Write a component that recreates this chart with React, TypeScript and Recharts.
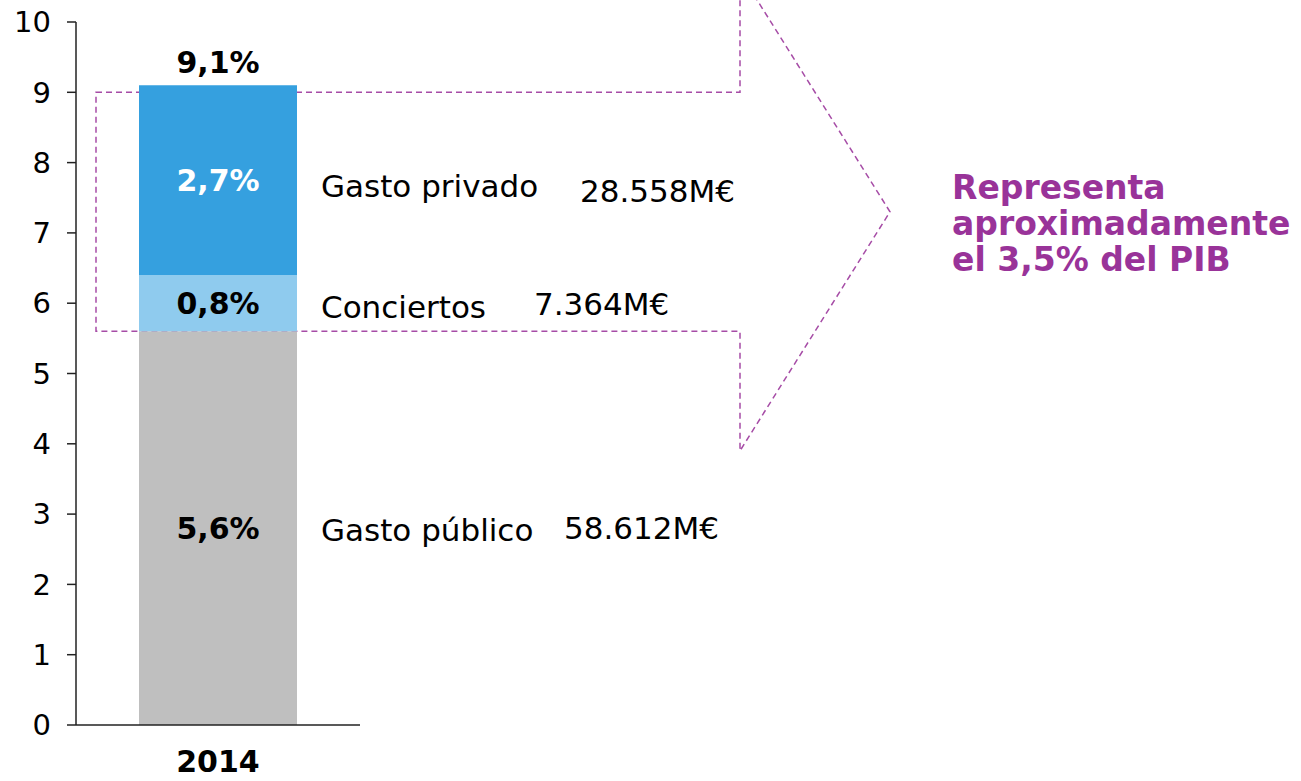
import React from 'react';
import {
  BarChart,
  Bar,
  XAxis,
  YAxis,
  LabelList,
  ReferenceArea,
} from 'recharts';

/* ---------------------------------------
   DATA
---------------------------------------- */
const years = ['2014'];
const gastoPublico = [5.6];
const conciertos = [0.8];
const gastoPrivado = [2.7];
const seriesNames = ['Gasto público', 'Conciertos', 'Gasto privado'];
const seriesAmounts = ['58.612M€', '7.364M€', '28.558M€'];
const yTicks = [0, 1, 2, 3, 4, 5, 6, 7, 8, 9, 10];
const noteLines = ['Representa', 'aproximadamente', 'el 3,5% del PIB'];
const arrowTop = 9; // upper edge of the dashed arrow body

const data = years.map((year, i) => ({
  year,
  publico: gastoPublico[i],
  conciertos: conciertos[i],
  privado: gastoPrivado[i],
  total: gastoPublico[i] + conciertos[i] + gastoPrivado[i],
}));

const FONT = '"DejaVu Sans", Verdana, sans-serif';
const PURPLE = '#993399';
const fmt = (v: number) => v.toFixed(1).replace('.', ',');

/* ---------------------------------------
   LABELS
---------------------------------------- */
function makeSegmentLabel(
  seriesIndex: number,
  color: string,
  nameDy: number,
  amountDx: number,
  amountDy: number
) {
  return function SegmentLabel(props: any) {
    const { x, y, width, height, value } = props;
    const cx = x + width / 2;
    const cy = y + height / 2;
    return (
      <g>
        <text
          x={cx}
          y={cy}
          dy="0.36em"
          textAnchor="middle"
          fontFamily={FONT}
          fontSize={30}
          fontWeight="bold"
          fill={color}
        >
          {fmt(Number(value))}%
        </text>
        <text
          x={x + width + 24}
          y={cy + nameDy}
          dy="0.36em"
          fontFamily={FONT}
          fontSize={31}
          fill="#000"
        >
          {seriesNames[seriesIndex]}
        </text>
        <text
          x={x + width + amountDx}
          y={cy + amountDy}
          dy="0.36em"
          fontFamily={FONT}
          fontSize={31}
          fill="#000"
        >
          {seriesAmounts[seriesIndex]}
        </text>
      </g>
    );
  };
}

function TotalLabel(props: any) {
  const { x, y, width, value } = props;
  return (
    <text
      x={x + width / 2}
      y={y - 12}
      textAnchor="middle"
      fontFamily={FONT}
      fontSize={30}
      fontWeight="bold"
      fill="#000"
    >
      {fmt(Number(value))}%
    </text>
  );
}

/* ---------------------------------------
   DASHED ARROW (spans the conciertos + privado range)
---------------------------------------- */
function ArrowShape(props: any) {
  const { x, y, height } = props;
  const top = y;
  const bottom = y + height;
  const mid = y + height / 2;
  const left = x + 20;
  const neck = x + 664;
  const tip = x + 814;
  const points = [
    [left, top],
    [neck, top],
    [neck, mid - height],
    [tip, mid],
    [neck, mid + height],
    [neck, bottom],
    [left, bottom],
  ]
    .map((p) => p.join(','))
    .join(' ');
  return (
    <g>
      <polygon
        points={points}
        fill="none"
        stroke="#A64CA6"
        strokeWidth={1.5}
        strokeDasharray="6 4"
      />
      {noteLines.map((line, i) => (
        <text
          key={line}
          x={tip + 62}
          y={mid - 13 + i * 36}
          fontFamily={FONT}
          fontSize={33}
          fontWeight="bold"
          fill={PURPLE}
        >
          {line}
        </text>
      ))}
    </g>
  );
}

/* ---------------------------------------
   MAIN COMPONENT
---------------------------------------- */
export default function App() {
  return (
    <div style={{ position: 'absolute', left: 0, top: 0, background: '#fff' }}>
      <BarChart
        width={1301}
        height={781}
        data={data}
        margin={{ top: 22, right: 941, bottom: 6, left: 16 }}
        barSize={158}
        style={{ fontFamily: FONT }}
      >
        <XAxis
          dataKey="year"
          height={50}
          tickLine={false}
          axisLine={{ stroke: '#222', strokeWidth: 1.5 }}
          tickMargin={20}
          tick={{ fill: '#000', fontSize: 30, fontWeight: 'bold' }}
        />
        <YAxis
          width={60}
          domain={[0, 10]}
          ticks={yTicks}
          interval={0}
          axisLine={{ stroke: '#222', strokeWidth: 1.5 }}
          tickLine={{ stroke: '#222', strokeWidth: 1.5 }}
          tickSize={9}
          tickMargin={16}
          tick={{ fill: '#000', fontSize: 29 }}
        />

        <ReferenceArea
          y1={gastoPublico[0]}
          y2={arrowTop}
          ifOverflow="visible"
          shape={ArrowShape}
        />

        <Bar
          dataKey="publico"
          stackId="a"
          fill="#BFBFBF"
          isAnimationActive={false}
        >
          <LabelList
            dataKey="publico"
            content={makeSegmentLabel(0, '#000', 2, 267, 0)}
          />
        </Bar>
        <Bar
          dataKey="conciertos"
          stackId="a"
          fill="#8FCBEE"
          isAnimationActive={false}
        >
          <LabelList
            dataKey="conciertos"
            content={makeSegmentLabel(1, '#000', 4, 237, 1)}
          />
        </Bar>
        <Bar
          dataKey="privado"
          stackId="a"
          fill="#35A0DF"
          isAnimationActive={false}
        >
          <LabelList
            dataKey="privado"
            content={makeSegmentLabel(2, '#fff', 6, 283, 11)}
          />
          <LabelList dataKey="total" content={TotalLabel} />
        </Bar>
      </BarChart>
    </div>
  );
}
